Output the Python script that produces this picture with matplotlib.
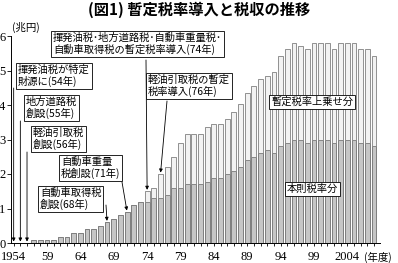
import matplotlib
matplotlib.use("Agg")
import matplotlib.pyplot as plt
import numpy as np

plt.rcParams['font.family'] = ['Noto Sans CJK JP', 'DejaVu Sans']

# fiscal years and tax revenue (trillion yen)
years = list(range(1957, 2009))
total = [0.08, 0.08, 0.08, 0.08, 0.18, 0.18, 0.28, 0.28, 0.4, 0.4,
         0.49, 0.6, 0.7, 0.8, 0.9, 1.1, 1.2, 1.5, 1.6, 2.0,
         2.2, 2.5, 2.9, 3.15, 3.15, 3.15, 3.37, 3.45, 3.45, 3.6,
         3.8, 4.03, 4.35, 4.55, 4.75, 4.84, 4.97, 5.42, 5.61, 5.8,
         5.71, 5.61, 5.8, 5.8, 5.8, 5.61, 5.8, 5.8, 5.8, 5.61,
         5.61, 5.42]
base = [0.08, 0.08, 0.08, 0.08, 0.18, 0.18, 0.28, 0.28, 0.4, 0.4,
        0.49, 0.6, 0.7, 0.8, 0.9, 1.1, 1.2, 1.2, 1.3, 1.3,
        1.4, 1.6, 1.6, 1.7, 1.7, 1.7, 1.78, 1.87, 1.87, 2.0,
        2.1, 2.2, 2.4, 2.48, 2.6, 2.7, 2.6, 2.81, 2.9, 3.0,
        3.0, 2.9, 3.0, 3.0, 3.0, 2.9, 3.0, 3.0, 3.0, 2.9,
        2.9, 2.8]
tick_years = [1954, 1959, 1964, 1969, 1974, 1979, 1984, 1989, 1994, 1999, 2004]
tick_labels = ["1954", "59", "64", "69", "74", "79", "84", "89", "94", "99", "2004"]

W, H = 398, 263
fig = plt.figure(figsize=(W/100, H/100), dpi=100)
ax = fig.add_axes([11/W, 1-243/H, (380-11)/W, (243-36)/H])

upper = np.array(total) - np.array(base)
ax.bar(years, base, width=0.72, color="#c6c6c6", edgecolor="#6e6e6e", lw=0.6)
ax.bar(years, upper, bottom=base, width=0.72, color="#f2f2f2", edgecolor="#808080", lw=0.6)

ax.set_xlim(1953.6, 2008.9)
ax.set_ylim(0, 6)
for s in ["top", "right"]:
    ax.spines[s].set_visible(False)
ax.spines["left"].set_linewidth(0.7)
ax.spines["bottom"].set_linewidth(0.7)
ax.set_yticks(range(7))
ax.set_yticklabels([str(i) for i in range(7)], family="Liberation Serif", fontsize=9)
ax.set_xticks(tick_years)
ax.set_xticklabels(tick_labels, family="Liberation Serif", fontsize=9)
ax.set_xticks(range(1954, 2009), minor=True)
ax.tick_params(axis="y", length=3, width=0.6, pad=1)
ax.tick_params(axis="x", which="both", length=2, width=0.6, pad=4)
ax.get_yticklabels()[0].set_y(0.03)

def fp(x, y):
    return x / W, 1 - y / H

fig.text(*fp(199, 10), "(図1) 暫定税率導入と税収の推移", ha="center", va="center",
         fontsize=11, fontweight="bold")
fig.text(*fp(12, 27), "(兆円)", ha="left", va="center", fontsize=7.5)
fig.text(*fp(364, 257), "(年度)", ha="left", va="center", fontsize=7.5)

box = dict(boxstyle="square,pad=0.18", fc="white", ec="black", lw=0.6)
def label(x, y, s):
    fig.text(*fp(x, y), s, ha="left", va="top", fontsize=7.4, linespacing=1.05, bbox=box)

label(53, 33, "揮発油税･地方道路税･自動車重量税･\n自動車取得税の暫定税率導入(74年)")
label(18, 65, "揮発油税が特定\n財源に(54年)")
label(26, 97, "地方道路税\n創設(55年)")
label(33, 128, "軽油引取税\n創設(56年)")
label(148, 75, "軽油引取税の暫定\n税率導入(76年)")
label(61, 157, "自動車重量\n税創設(71年)")
label(40, 188, "自動車取得税\n創設(68年)")
label(271, 97, "暫定税率上乗せ分")
label(287, 184, "本則税率分")

arrow = dict(arrowstyle="-|>", lw=0.6, color="black", mutation_scale=5, shrinkA=0, shrinkB=1)
# events before any bar: lines drop to the zero line
for yr, py in [(1954, 88), (1955, 121), (1956, 152)]:
    ax.annotate("", xy=(yr, 0), xycoords="data", xytext=(yr, H - py),
                textcoords=("data", "figure pixels"), arrowprops=arrow)
# events pointing at bar tops
for yr, sx, sy in [(1974, 146, 60), (1976, 167, 101), (1971, 122, 182), (1968, 106, 205)]:
    ax.annotate("", xy=(yr, total[years.index(yr)]), xycoords="data",
                xytext=(sx, H - sy), textcoords="figure pixels", arrowprops=arrow)

fig.savefig("out.png", dpi=100)
